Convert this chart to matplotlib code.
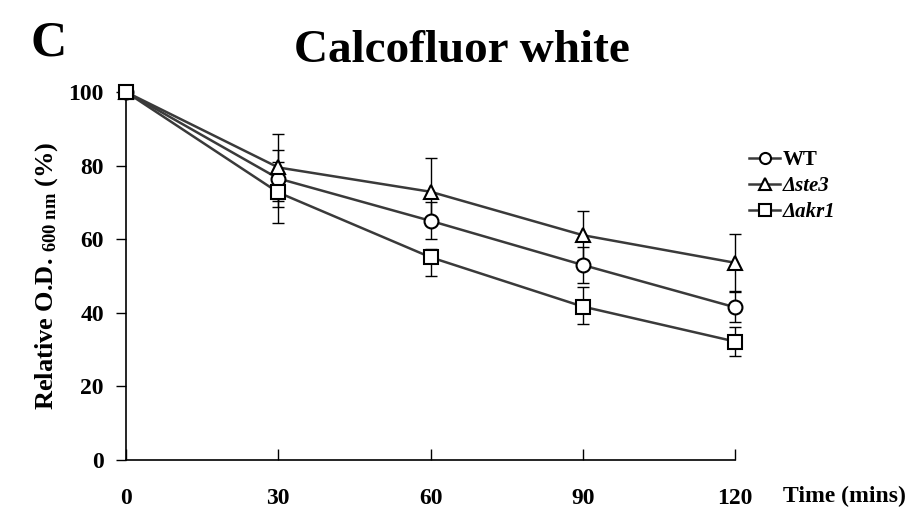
import numpy as np
import matplotlib
matplotlib.use('Agg')
import matplotlib.pyplot as plt

plt.rcParams['font.family'] = ['Liberation Serif', 'DejaVu Serif']
plt.rcParams['font.weight'] = 'bold'
plt.rcParams['mathtext.fontset'] = 'custom'
plt.rcParams['mathtext.rm'] = 'Liberation Serif:bold'
plt.rcParams['mathtext.it'] = 'Liberation Serif:italic:bold'

time = [0, 30, 60, 90, 120]
wt = [100, 76.5, 65.0, 53.0, 41.5]
wt_err = [0, 7.7, 5.0, 5.0, 4.1]
ste3 = [100, 79.5, 72.9, 61.1, 53.6]
ste3_err = [0, 9.0, 9.1, 6.7, 7.8]
akr1 = [100, 72.7, 55.1, 41.7, 32.2]
akr1_err_lo = [0, 8.2, 5.0, 4.8, 3.9]
akr1_err_hi = [0, 8.2, 2.2, 5.2, 4.0]

fig = plt.figure(figsize=(9.14, 5.13), dpi=100)
ax = fig.add_axes([0.1379, 0.1033, 0.6663, 0.7173])

series = [(wt, wt_err, 'o', 'WT'),
          (ste3, ste3_err, '^', 'Δste3'),
          (akr1, [akr1_err_lo, akr1_err_hi], 's', 'Δakr1')]

handles = []
for y, err, mk, lab in series:
    eb = ax.errorbar(time, y, yerr=err, fmt='none', ecolor='black',
                     elinewidth=1.0, capsize=4, capthick=1.0, zorder=2)
    for c in eb[1]:
        c.set_clip_on(False)
    for b in eb[2]:
        b.set_clip_on(False)
    ln, = ax.plot(time, y, color='#3a3a3a', lw=1.8, marker=mk, mfc='white',
                  mec='black', mew=1.5, ms=10, clip_on=False, zorder=3, label=lab)
    handles.append(ln)

ax.set_xlim(0, 120)
ax.set_ylim(0, 100)
ax.set_xticks(time)
ax.set_yticks(np.arange(0, 101, 20))
for s in ['top', 'right']:
    ax.spines[s].set_visible(False)
for s in ['left', 'bottom']:
    ax.spines[s].set_linewidth(1.2)
    ax.spines[s].set_color('black')

ax.tick_params(axis='x', direction='in', length=8, width=1, pad=20, labelsize=17)
ax.tick_params(axis='y', direction='out', length=7, width=1, pad=9, labelsize=17)
for t in ax.get_xticklabels() + ax.get_yticklabels():
    t.set_fontweight('bold')

ax.set_ylabel(r'Relative O.D. $_{\mathrm{600\ nm}}$ (%)', fontsize=19,
              fontweight='bold', labelpad=6)

fig.text(0.505, 0.9, 'Calcofluor white', ha='center', va='center',
         fontsize=34, fontweight='bold')
fig.text(0.033, 0.915, 'C', ha='left', va='center', fontsize=36, fontweight='bold')
fig.text(0.991, 0.032, 'Time (mins)', ha='right', va='center',
         fontsize=17, fontweight='bold')

leg = ax.legend(handles=handles, loc='upper left', bbox_to_anchor=(0.808, 0.728),
                bbox_transform=fig.transFigure, frameon=False,
                prop=dict(size=15, weight='bold'), handlelength=1.5,
                handletextpad=0.1, labelspacing=0.3, borderpad=0)
for h in leg.legend_handles:
    h.set_markersize(8)
for t in leg.get_texts()[1:]:
    t.set_style('italic')

fig.savefig('out.png', dpi=100)
